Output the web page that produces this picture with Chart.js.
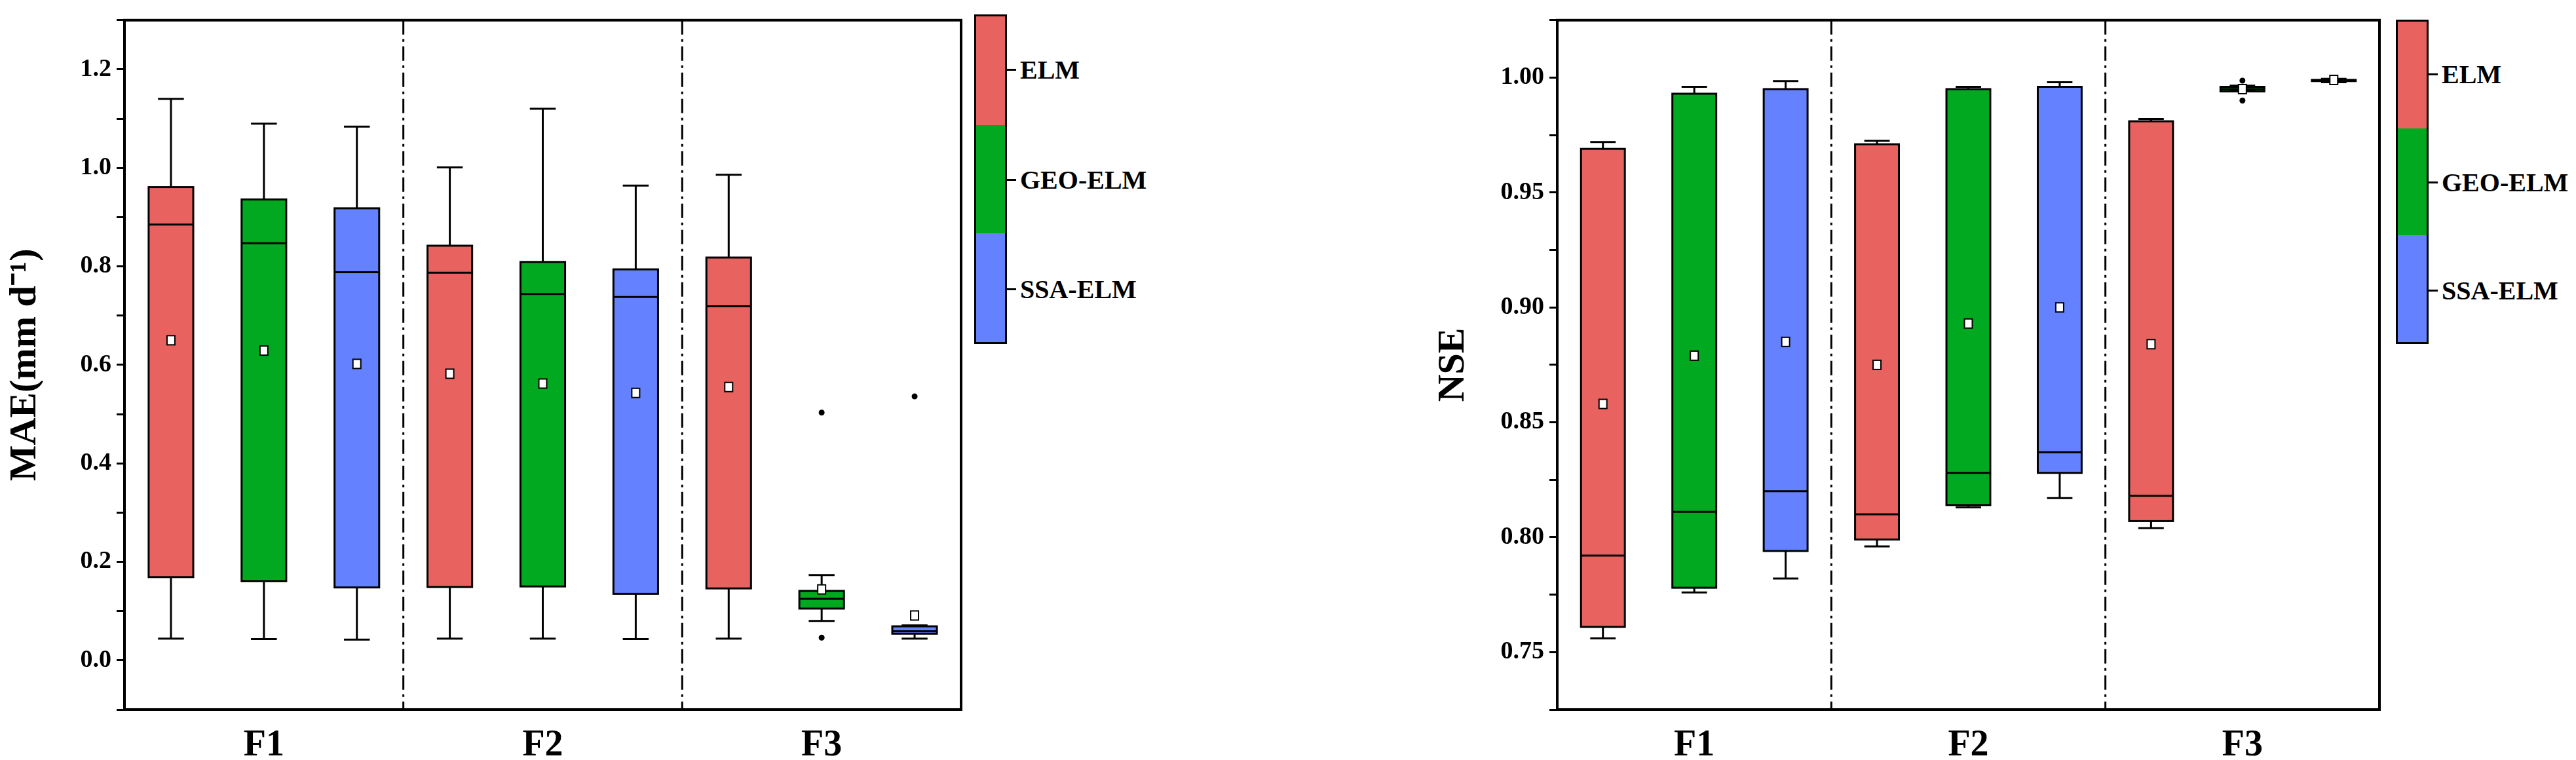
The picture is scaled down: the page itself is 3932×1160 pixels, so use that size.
<!DOCTYPE html>
<html>
<head>
<meta charset="utf-8">
<script src="https://cdn.jsdelivr.net/npm/chart.js@4.4.0/dist/chart.umd.min.js"></script>
<style>
  body { margin: 0; background: #fff; width: 3932px; height: 1160px; position: relative; overflow: hidden; font-family: "Liberation Serif", serif; }
  .wrap { position: absolute; top: 0; height: 1160px; }
  .bar { position: absolute; width: 50px; border: 3px solid #000; box-sizing: border-box; }
  .bar div { position: absolute; left: 0; right: 0; }
  .lab { position: absolute; font: bold 40px "Liberation Serif", serif; transform: translateY(-50%); white-space: nowrap; }
  .tk { position: absolute; width: 14px; height: 3px; background: #000; }
</style>
</head>
<body>
<div class="wrap" style="left:0;width:1475px"><canvas id="maeChart"></canvas></div>
<div class="wrap" style="left:2180px;width:1460px"><canvas id="nseChart"></canvas></div>
<div id="leg1"></div>
<div id="leg2"></div>
<script>
const categories = ['', 'F1', '', '', 'F2', '', '', 'F3', ''];
const models = ['ELM', 'GEO-ELM', 'SSA-ELM'];
const colors = ['#E8635F', '#00A920', '#6482FF'];

// MAE box statistics, one entry per box (F1..F3 x ELM, GEO-ELM, SSA-ELM)
const maeLow    = [0.044, 0.043, 0.042, 0.044, 0.044, 0.043, 0.044, 0.080, 0.044];
const maeQ1     = [0.169, 0.161, 0.148, 0.149, 0.150, 0.135, 0.146, 0.105, 0.054];
const maeMedian = [0.885, 0.847, 0.788, 0.787, 0.744, 0.738, 0.719, 0.125, 0.059];
const maeQ3     = [0.961, 0.936, 0.918, 0.842, 0.809, 0.794, 0.818, 0.141, 0.069];
const maeHigh   = [1.140, 1.090, 1.084, 1.001, 1.120, 0.964, 0.986, 0.173, 0.071];
const maeMean   = [0.650, 0.629, 0.602, 0.582, 0.562, 0.543, 0.555, 0.144, 0.091];
const maeOutliers = [[], [], [], [], [], [], [], [0.503, 0.046], [0.536]];

// NSE box statistics
const nseLow    = [0.756, 0.776, 0.782, 0.796, 0.813, 0.817, 0.804, 0.9945, 0.9980];
const nseQ1     = [0.761, 0.778, 0.794, 0.799, 0.814, 0.828, 0.807, 0.9940, 0.9985];
const nseMedian = [0.792, 0.811, 0.820, 0.810, 0.828, 0.837, 0.818, 0.9950, 0.9988];
const nseQ3     = [0.969, 0.993, 0.995, 0.971, 0.995, 0.996, 0.981, 0.9960, 0.9990];
const nseHigh   = [0.972, 0.996, 0.9985, 0.9725, 0.996, 0.998, 0.982, 0.9965, 0.9995];
const nseMean   = [0.858, 0.879, 0.885, 0.875, 0.893, 0.900, 0.884, 0.9950, 0.9990];
const nseOutliers = [[], [], [], [], [], [], [], [0.9987, 0.990], []];

const font = { family: 'Liberation Serif', weight: 'bold' };

const boxPlugin = {
  id: 'boxExtras',
  afterDatasetsDraw(chart) {
    const s = chart.options.plugins.boxExtras;
    const ctx = chart.ctx, xs = chart.scales.x, ys = chart.scales.y, a = chart.chartArea;
    const meta = chart.getDatasetMeta(0);
    ctx.save();
    ctx.strokeStyle = '#000';
    ctx.lineWidth = 3;
    for (let i = 0; i < s.q1.length; i++) {
      const x = xs.getPixelForValue(i);
      const hw = meta.data[i].width / 2;
      const cw = hw * 0.58;
      const yq1 = ys.getPixelForValue(s.q1[i]), yq3 = ys.getPixelForValue(s.q3[i]);
      const ylo = ys.getPixelForValue(s.low[i]), yhi = ys.getPixelForValue(s.high[i]);
      ctx.beginPath();
      ctx.moveTo(x, yq3); ctx.lineTo(x, yhi);
      ctx.moveTo(x - cw, yhi); ctx.lineTo(x + cw, yhi);
      ctx.moveTo(x, yq1); ctx.lineTo(x, ylo);
      ctx.moveTo(x - cw, ylo); ctx.lineTo(x + cw, ylo);
      ctx.stroke();
      ctx.strokeRect(x - hw, yq3, hw * 2, yq1 - yq3);
      const ym = ys.getPixelForValue(s.median[i]);
      ctx.beginPath(); ctx.moveTo(x - hw, ym); ctx.lineTo(x + hw, ym); ctx.stroke();
      ctx.fillStyle = '#000';
      s.outliers[i].forEach(v => {
        ctx.beginPath(); ctx.arc(x, ys.getPixelForValue(v), 4.5, 0, Math.PI * 2); ctx.fill();
      });
      const yMean = ys.getPixelForValue(s.mean[i]);
      ctx.fillStyle = '#fff';
      ctx.lineWidth = 2;
      ctx.fillRect(x - 6, yMean - 7, 12, 14);
      ctx.strokeRect(x - 6, yMean - 7, 12, 14);
      ctx.lineWidth = 3;
    }
    // group separators
    ctx.setLineDash([22, 7, 4, 7]);
    [2.5, 5.5].forEach(p => {
      const x = (xs.getPixelForValue(Math.floor(p)) + xs.getPixelForValue(Math.ceil(p))) / 2;
      ctx.beginPath(); ctx.moveTo(x, a.top); ctx.lineTo(x, a.bottom); ctx.stroke();
    });
    ctx.setLineDash([]);
    ctx.lineWidth = 4;
    ctx.strokeRect(a.left, a.top, a.right - a.left, a.bottom - a.top);
    ctx.restore();
  }
};

function makeChart(id, title, q1, q3, median, low, high, mean, outliers, yMin, yMax, step, labelStep, decimals, yWidth) {
  const ctx = document.getElementById(id).getContext('2d');
  return new Chart(ctx, {
    type: 'bar',
    data: {
      labels: categories,
      datasets: [{
        data: q1.map((v, i) => [v, q3[i]]),
        backgroundColor: categories.map((c, i) => colors[i % 3]),
        borderWidth: 0,
        barPercentage: 0.48,
        categoryPercentage: 1
      }]
    },
    options: {
      responsive: true,
      maintainAspectRatio: false,
      animation: false,
      layout: { padding: { top: 14, right: 8, bottom: 0, left: 0 } },
      plugins: {
        legend: { display: false },
        tooltip: { enabled: false },
        boxExtras: { q1, q3, median, low, high, mean, outliers }
      },
      scales: {
        x: {
          grid: { display: false },
          border: { color: '#000', width: 4 },
          ticks: { color: '#000', font: { ...font, size: 56 }, autoSkip: false, maxRotation: 0, padding: 14 },
          afterFit: s => { s.height = 77; }
        },
        y: {
          min: yMin, max: yMax,
          grid: { drawOnChartArea: false, color: '#000', lineWidth: 3, tickLength: 12 },
          border: { color: '#000', width: 4 },
          title: { display: true, text: title, color: '#000', font: { ...font, size: 58 }, padding: 4 },
          ticks: {
            stepSize: step, color: '#000', font: { ...font, size: 38 }, padding: 8,
            callback: v => {
              const k = Math.round(v / labelStep * 1000) / 1000;
              return Number.isInteger(k) ? v.toFixed(decimals) : '';
            }
          },
          afterFit: s => { s.width = yWidth; }
        }
      }
    },
    plugins: [boxPlugin]
  });
}

makeChart('maeChart', 'MAE(mm d\u207B\u00B9)', maeQ1, maeQ3, maeMedian, maeLow, maeHigh, maeMean, maeOutliers,
  -0.1, 1.3, 0.1, 0.2, 1, 190);
makeChart('nseChart', 'NSE', nseQ1, nseQ3, nseMedian, nseLow, nseHigh, nseMean, nseOutliers,
  0.725, 1.025, 0.025, 0.05, 2, 197);

function buildLegend(id, left, top, height) {
  const el = document.getElementById(id);
  let html = `<div class="bar" style="left:${left}px;top:${top}px;height:${height}px">`;
  models.forEach((m, i) => {
    html += `<div style="top:${i * 100 / 3}%;height:${100 / 3}%;background:${colors[i]}"></div>`;
  });
  html += '</div>';
  models.forEach((m, i) => {
    const y = top + height * (i + 0.5) / 3;
    html += `<div class="tk" style="left:${left + 50}px;top:${y - 1}px"></div>`;
    html += `<div class="lab" style="left:${left + 70}px;top:${y}px">${m}</div>`;
  });
  el.innerHTML = html;
}
buildLegend('leg1', 1487, 22, 503);
buildLegend('leg2', 3657, 30, 495);
</script>
</body>
</html>
